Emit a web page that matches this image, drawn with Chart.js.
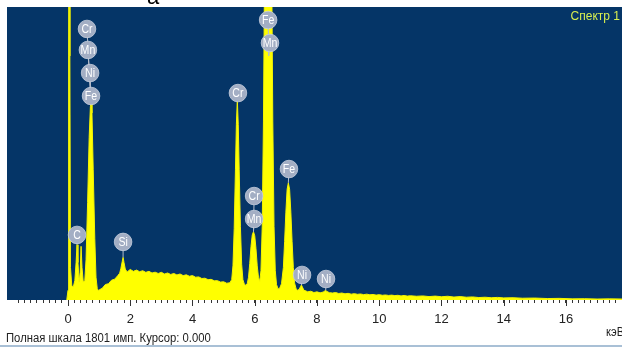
<!DOCTYPE html>
<html><head><meta charset="utf-8">
<script src="https://cdn.jsdelivr.net/npm/chart.js@4/dist/chart.umd.min.js"></script>
<style>html,body{margin:0;padding:0;background:#fff;overflow:hidden}canvas{display:block}</style>
</head><body>
<canvas id="c" width="622" height="347"></canvas>
<script>
// Spectrum: energy (keV) and counts
const energyKeV = [
 -0.04, 0.00, 0.02, 0.04, 0.06, 0.08, 0.12, 0.17, 0.22, 0.26, 0.29, 0.32, 0.36, 0.39, 0.42, 0.45, 0.49,
 0.54, 0.58, 0.63, 0.68, 0.72, 0.74, 0.77, 0.81, 0.86, 0.90, 0.94, 0.98, 1.02,
 1.1, 1.2, 1.3, 1.4, 1.5, 1.6, 1.66, 1.70, 1.74, 1.77, 1.80, 1.84, 1.9,
 2.0, 2.1, 2.2, 2.3, 2.4, 2.5, 2.6, 2.7, 2.8, 2.9, 3.0, 3.1, 3.2, 3.3, 3.4, 3.5, 3.6, 3.7, 3.8, 3.9,
 4.0, 4.1, 4.2, 4.3, 4.4, 4.5, 4.6, 4.7, 4.8, 4.9, 5.0, 5.1, 5.2,
 5.26, 5.30, 5.34, 5.38, 5.41, 5.44, 5.47, 5.50, 5.54, 5.58, 5.62, 5.67, 5.72, 5.76,
 5.80, 5.84, 5.88, 5.92, 5.96, 6.00, 6.04, 6.08, 6.12, 6.16,
 6.20, 6.24, 6.28, 6.31, 6.34, 6.38, 6.43, 6.48, 6.52, 6.55, 6.58, 6.62, 6.66, 6.70, 6.75, 6.80,
 6.86, 6.92, 6.96, 7.00, 7.04, 7.08, 7.12, 7.16, 7.20, 7.24, 7.28, 7.33, 7.38, 7.43, 7.47, 7.50, 7.53, 7.58, 7.65,
 7.7, 7.8, 7.9, 8.0, 8.1, 8.2, 8.25, 8.28, 8.32, 8.4, 8.5, 8.6, 8.7, 8.8, 8.9,
 9.0, 9.1, 9.2, 9.3, 9.4, 9.5, 9.6, 9.7, 9.8, 9.9, 10.0, 10.1, 10.2, 10.3, 10.4, 10.5, 10.6, 10.7, 10.8, 10.9,
 11.0, 11.2, 11.4, 11.6, 11.8, 12.0, 12.2, 12.4, 12.6, 12.8, 13.0, 13.2, 13.4, 13.6, 13.8,
 14.0, 14.3, 14.6, 15.0, 15.4, 15.8, 16.2, 16.6, 17.0, 17.4, 17.8
];
const counts = [
 0, 60, 1500, 4000, 1500, 200, 90, 80, 120, 230, 340, 230, 110, 170, 330, 200, 110,
 120, 250, 600, 1000, 1190, 1215, 1150, 800, 380, 140, 70, 58, 64,
 72, 95, 100, 122, 128, 150, 165, 195, 235, 262, 230, 190, 172,
 188, 176, 184, 174, 180, 170, 176, 166, 171, 163, 170, 160, 166, 157, 163, 154, 160, 150, 155, 146,
 150, 140, 142, 132, 134, 125, 127, 118, 119, 110, 112, 103, 106,
 125, 210, 440, 800, 1080, 1230, 1080, 800, 450, 220, 125, 95, 90, 102,
 140, 225, 330, 400, 420, 395, 315, 210, 140, 115,
 180, 450, 1100, 1900, 2900, 3800, 4200, 3800, 2900, 1900, 1100, 450, 180, 95, 68, 72,
 100, 200, 360, 540, 680, 720, 680, 540, 360, 200, 105, 68, 60, 66, 82, 92, 80, 60, 55,
 50, 54, 46, 50, 44, 49, 56, 60, 52, 45, 43, 46, 40, 43, 38,
 41, 36, 39, 35, 37, 33, 36, 32, 34, 30, 33, 29, 31, 28, 30, 27, 29, 25, 28, 24,
 26, 23, 25, 21, 24, 20, 23, 18, 21, 17, 19, 15, 17, 14, 16,
 13, 14, 11, 12, 9, 10, 7, 8, 6, 7, 6
];
const tickLabels = ['0', '2', '4', '6', '8', '10', '12', '14', '16'];
// Peak identification labels: name, label position (keV, counts), peak top it points to
const peakNames   = ['Cr', 'Mn', 'Ni', 'Fe', 'C', 'Si', 'Cr', 'Fe', 'Mn', 'Cr', 'Mn', 'Fe', 'Ni', 'Ni'];
const labelEnergy = [0.61, 0.64, 0.71, 0.74, 0.29, 1.77, 5.46, 6.43, 6.49, 5.98, 5.98, 7.10, 7.52, 8.29];
const labelLevel  = [1666, 1537, 1395, 1254, 400, 357, 1272, 1721, 1580, 639, 498, 805, 154, 129];
const peakEnergy  = [0.74, 0.74, 0.74, 0.74, 0.29, 1.77, 5.44, 6.45, 6.45, 5.96, 5.96, 7.08, 7.50, 8.28];
const peakTop     = [1215, 1215, 1215, 1215, 340, 262, 1230, 1500, 1500, 420, 420, 720, 92, 60];
const fullScale = 1801;
const axisMin = -1.96, axisMax = 17.8;

const FONT = '"Liberation Sans", Arial, sans-serif';

const decor = {
  id: 'decor',
  beforeDraw(chart) {
    const {ctx, chartArea: a} = chart;
    ctx.save();
    ctx.fillStyle = '#053567';
    ctx.fillRect(a.left, a.top, a.right - a.left, a.bottom - a.top);
    ctx.restore();
  },
  afterDatasetsDraw(chart) {
    const {ctx, scales: {x, y}} = chart;
    ctx.save();
    ctx.strokeStyle = '#b4bccb';
    ctx.lineWidth = 1;
    for (let i = 0; i < peakNames.length; i++) {
      const lx = x.getPixelForValue(labelEnergy[i]), ly = y.getPixelForValue(labelLevel[i]);
      const px = x.getPixelForValue(peakEnergy[i]), py = y.getPixelForValue(peakTop[i]);
      ctx.beginPath(); ctx.moveTo(lx, ly); ctx.lineTo(px, py); ctx.stroke();
    }
    for (let i = 0; i < peakNames.length; i++) {
      const lx = x.getPixelForValue(labelEnergy[i]), ly = y.getPixelForValue(labelLevel[i]);
      ctx.fillStyle = '#a3aec4';
      ctx.beginPath(); ctx.arc(lx, ly, 8.8, 0, Math.PI * 2); ctx.fill();
      ctx.strokeStyle = 'rgba(200,208,222,0.8)';
      ctx.stroke();
      ctx.fillStyle = '#ffffff';
      ctx.font = '12px ' + FONT;
      ctx.textAlign = 'center'; ctx.textBaseline = 'middle';
      ctx.save();
      ctx.translate(lx, ly + 0.5); ctx.scale(0.88, 1);
      ctx.fillText(peakNames[i], 0, 0);
      ctx.restore();
    }
    ctx.restore();
  },
  afterDraw(chart) {
    const {ctx, chartArea: a, scales: {x}} = chart;
    ctx.save();
    ctx.strokeStyle = '#333'; ctx.lineWidth = 1;
    tickLabels.forEach(t => {
      const px = Math.round(x.getPixelForValue(Number(t))) + 0.5;
      ctx.beginPath(); ctx.moveTo(px, a.bottom); ctx.lineTo(px, a.bottom + 6); ctx.stroke();
    });
    ctx.fillStyle = '#000';
    ctx.font = '22px ' + FONT;
    ctx.textAlign = 'center'; ctx.textBaseline = 'alphabetic';
    ctx.fillText('a', 153, 4);
    ctx.fillStyle = '#d8ee50';
    ctx.font = '12px ' + FONT;
    ctx.textAlign = 'right'; ctx.textBaseline = 'middle';
    ctx.fillText('Спектр 1', 620, 17);
    ctx.fillStyle = '#222';
    ctx.textAlign = 'left';
    ctx.save();
    ctx.translate(606, 333); ctx.scale(0.93, 1);
    ctx.fillText('кэВ', 0, 0);
    ctx.restore();
    ctx.save();
    ctx.translate(6, 339); ctx.scale(0.94, 1);
    ctx.fillText('Полная шкала ' + fullScale + ' имп. Курсор: 0.000', 0, 0);
    ctx.restore();
    ctx.fillStyle = '#a9c0d6';
    ctx.fillRect(0, 345, 622, 2);
    ctx.restore();
  }
};

new Chart(document.getElementById('c'), {
  type: 'line',
  data: {
    datasets: [{
      data: energyKeV.map((e, i) => ({x: e, y: counts[i]})),
      fill: 'origin',
      backgroundColor: '#ffff00',
      borderColor: '#f4f400',
      borderWidth: 1,
      pointRadius: 0,
      tension: 0
    }]
  },
  options: {
    responsive: false,
    animation: false,
    devicePixelRatio: 1,
    layout: {padding: {left: 7, top: 7, right: 0, bottom: 19}},
    plugins: {legend: {display: false}, tooltip: {enabled: false}, title: {display: false}},
    scales: {
      x: {
        type: 'linear', min: axisMin, max: axisMax,
        border: {display: false},
        grid: {drawOnChartArea: false, tickLength: 3, tickColor: '#333'},
        afterBuildTicks(s) {
          s.ticks = s.ticks.filter(t => Math.abs(t.value * 5 - Math.round(t.value * 5)) < 1e-6);
        },
        afterFit(s) { s.height = 28; s.paddingLeft = 0; s.paddingRight = 0; },
        ticks: {
          stepSize: 0.2, autoSkip: false, maxRotation: 0, padding: 9,
          color: '#222', font: {family: FONT, size: 13},
          callback(v) {
            const r = Math.round(v * 5) / 5;
            const s = String(Math.round(r));
            return (Math.abs(r - Math.round(r)) < 1e-6 && tickLabels.includes(s)) ? s : '';
          }
        }
      },
      y: {display: false, min: 0, max: fullScale}
    }
  },
  plugins: [decor]
});
</script>
</body></html>
